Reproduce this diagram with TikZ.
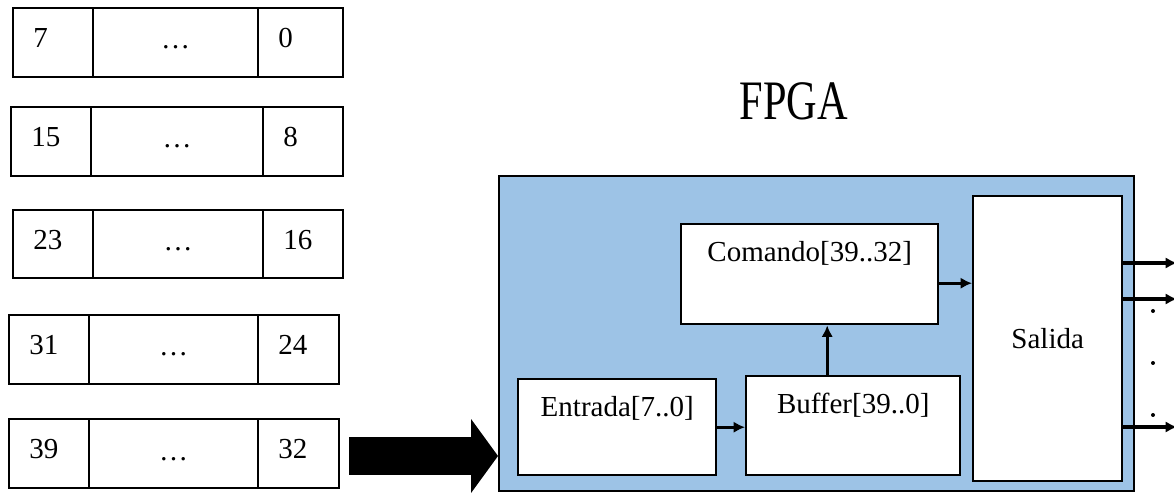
\documentclass[tikz,border=0pt]{standalone}
\usepackage{fontspec}
\setmainfont{Liberation Serif}
\usepackage{graphicx}
\usetikzlibrary{arrows.meta,positioning}
\definecolor{fpgablue}{HTML}{9DC3E6}
\tikzset{
  reg/.style={line width=0.8pt},
  txt/.style={inner sep=0pt, font=\fontsize{16.5}{20}\selectfont},
  block/.style={draw, line width=1.4pt, fill=white, anchor=north west, inner sep=0pt, font=\fontsize{16.5}{20}\selectfont},
  conn/.style={line width=1.7pt, -{Latex[length=6.5pt,width=6.5pt]}},
}
\begin{document}
\begin{tikzpicture}[x=0.02cm, y=-0.02cm]
\useasboundingbox (0,0) rectangle (1174,493);

% Drawing the five byte registers
\foreach \ya/\yb/\xa/\xb/\xc/\xd/\msb/\lsb [count=\i] in {8/77/13/93/258/343/7/0, 107/176/11/91/263/343/15/8, 210/278/13/93/263/343/23/16, 315/384/9/89/258/339/31/24, 419/488/9/89/258/339/39/32}{
  \draw[reg] (\xa,\ya) rectangle (\xd,\yb);%
  \draw[reg] (\xb,\ya) -- (\xb,\yb) (\xc,\ya) -- (\xc,\yb);%
  \node[txt, anchor=base west] (msb\i) at (\xa+20,\ya+40) {\msb};%
  \node[txt, anchor=base] (dots\i) at ({(\xb+\xc)/2},\ya+41) {…};%
  \node[txt, anchor=base west] (lsb\i) at (\xc+20,\ya+40) {\lsb};%
}

% Drawing FPGA title
\node[anchor=base, inner sep=0pt] (fpgatxt) at (794,120) {\fontsize{31.7}{36}\selectfont\scalebox{0.76}[1]{FPGA}};

% Drawing FPGA box
\node[block, fill=fpgablue, line width=1pt, minimum width=12.7cm, minimum height=6.3cm] (fpga) at (498,175) {};

% Drawing inner blocks
\node[block, minimum width=2.98cm, minimum height=5.7cm] (salida) at (972,195) {Salida};
\node[block, minimum width=5.14cm, minimum height=2cm] (comando) at (680,223) {};
\node[block, minimum width=4.28cm, minimum height=1.98cm] (buffer) at (745,375) {};
\node[block, minimum width=3.96cm, minimum height=1.92cm] (entrada) at (517,378) {};
\node[txt, anchor=base] (comandotxt) at ([yshift=-0.78cm]comando.north) {Comando[39..32]};
\node[txt, anchor=base] (buffertxt) at ([yshift=-0.78cm]buffer.north) {Buffer[39..0]};
\node[txt, anchor=base] (entradatxt) at ([yshift=-0.78cm]entrada.north) {Entrada[7..0]};

% Drawing big input arrow
\coordinate (bigtail) at (349,456);
\draw[line width=21.5pt, -{Triangle[width=42pt,length=15.3pt,line width=0pt]}] (bigtail) -- (bigtail -| fpga.west);

% Drawing internal connections
\draw[conn] (entrada.east) -- (entrada.east -| buffer.west);
\coordinate (bc) at ([xshift=-0.52cm]buffer.north);
\draw[conn] (bc) -- (bc |- comando.south);
\coordinate (cs) at ([yshift=-0.18cm]comando.east);
\draw[conn] (cs) -- (cs -| salida.west);

% Drawing outputs
\foreach \y [count=\i] in {263,299,427}{
  \coordinate (out\i) at (1177,\y);
  \draw[conn, line width=1.9pt] (out\i -| salida.east) -- (out\i);%
}
\foreach \y in {311,363,415}
  \fill (1153,\y) circle (0.04cm);%
\end{tikzpicture}
\end{document}
